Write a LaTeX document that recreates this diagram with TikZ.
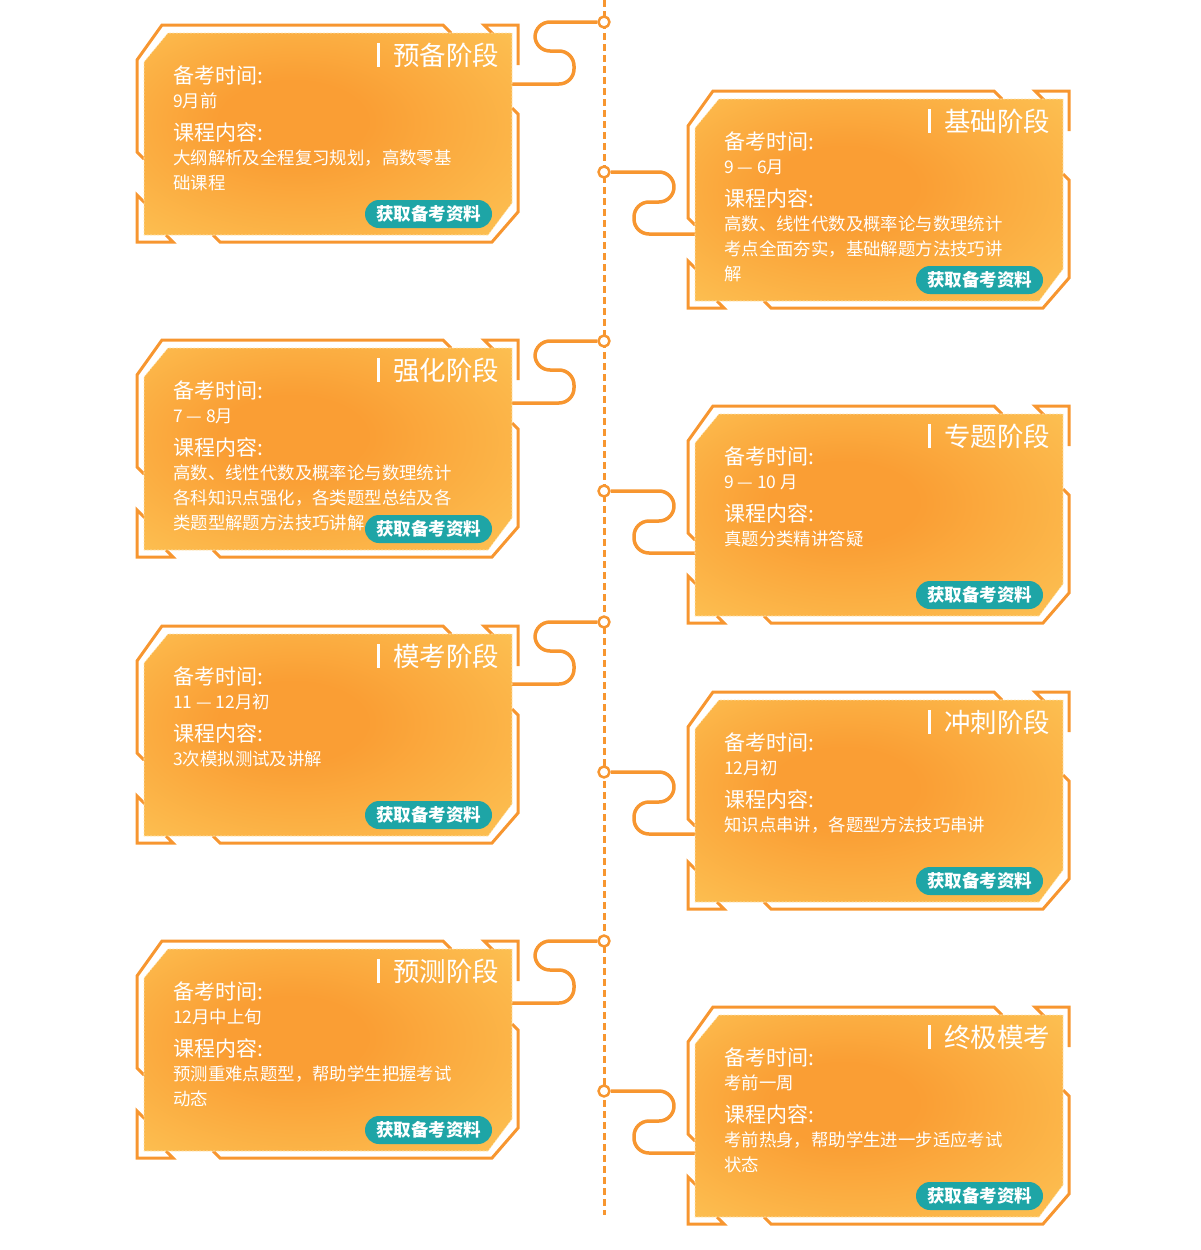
\documentclass[tikz,border=0pt]{standalone}
\usepackage{fontspec}
\setmainfont{Noto Sans CJK SC}
\usepackage{tikz}
\usetikzlibrary{calc}

\definecolor{lineorange}{RGB}{247,150,48}
\definecolor{cardcore}{RGB}{250,158,52}
\definecolor{cardedge}{RGB}{253,199,88}
\definecolor{btnteal}{RGB}{30,165,166}

\pgfdeclareradialshading{cardglow}{\pgfpoint{-6bp}{4bp}}{color(0bp)=(cardcore); color(10bp)=(cardcore); color(42bp)=(cardedge); color(50bp)=(cardedge)}

% one stage card: name, x, y of the outer top-left corner, title, time, lines of content
\newcommand{\stagecard}[6]{%
  \begin{scope}[shift={(#2,#3)}]
    % outer frame pieces
    \draw[cardframe] (7,134) -- (0,127) -- (0,35) -- (25,0) -- (306,0) -- (314,8);
    \draw[cardframe] (374,27) -- (347,0) -- (381,0) -- (381,40);
    \draw[cardframe] (375,83) -- (381,89) -- (381,187) -- (355,217) -- (83,217) -- (76,210);
    \draw[cardframe] (8,178) -- (0,170) -- (0,217) -- (36,217) -- (29,210);
    % glowing face
    \shadedraw[shading=cardglow, seam] (7,37) -- (31,8) -- (375,8) -- (375,178) -- (351,210) -- (7,210) -- cycle;
    % heading
    \fill[white] (240,18) rectangle (243,42);
    \node[stagehead] (#1-title) at (256,30) {#4};
    \node[fieldname] (#1-when) at (36,50) {备考时间:};
    \node[fieldtext] (#1-time) at (36,76) {#5};
    \node[fieldname] (#1-what) at (36,107) {课程内容:};
    \foreach \ctext [count=\i] in {#6}
      \node[fieldtext] (#1-line\i) at (36,108+25*\i) {\ctext};
    \node[getbtn] (#1-btn) at (291.5,189) {获取备考资料};
  \end{scope}}

% S-shaped connectors from a knot on the rail to a card
\newcommand{\leftlink}[2]{%
  \coordinate (#1-port) at (512,#2+62);
  \draw[cardlink] (#1.west) -- (535,#2) -- (535,#2+29) -- (574,#2+29) -- (574,#2+62) -- (#1-port);}
\newcommand{\rightlink}[2]{%
  \coordinate (#1-port) at (696,#2+62);
  \draw[cardlink] (#1.east) -- (674,#2) -- (674,#2+30) -- (634,#2+30) -- (634,#2+62) -- (#1-port);}

\begin{document}
\begin{tikzpicture}[x=1pt, y=-1pt, line join=round,
  cardframe/.style={draw=lineorange, line width=3pt, line join=miter},
  seam/.style={draw=white!55!cardedge, line width=0.6pt, dash pattern=on 2pt off 1.5pt},
  cardlink/.style={draw=lineorange, line width=3.5pt, rounded corners=15pt},
  rail/.style={draw=lineorange, line width=3pt, dash pattern=on 7pt off 4pt},
  railknot/.style={circle, draw=lineorange, fill=white, line width=2.5pt, minimum size=11pt, inner sep=0},
  stagehead/.style={anchor=west, text=white, font=\fontsize{26.5}{30}\selectfont, inner sep=0},
  fieldname/.style={anchor=west, text=white, font=\fontsize{21}{24}\selectfont, inner sep=0},
  fieldtext/.style={anchor=west, text=white, font=\fontsize{17.4}{20}\selectfont, inner sep=0},
  getbtn/.style={fill=btnteal, text=white, rounded corners=14pt, minimum width=127pt, minimum height=28pt, inner sep=0, font=\bfseries\fontsize{17.5}{20}\selectfont}]
  \useasboundingbox (0,0) rectangle (1200,1250);

  % Timeline rail and its knots
  \draw[rail] (604,0) -- (604,1215);
  \foreach \y [count=\k] in {22,172,341,491,622,772,941,1091}
    \node[railknot] (knot\k) at (604,\y) {};

  % Connectors
  \leftlink{knot1}{22}
  \rightlink{knot2}{172}
  \leftlink{knot3}{341}
  \rightlink{knot4}{491}
  \leftlink{knot5}{622}
  \rightlink{knot6}{772}
  \leftlink{knot7}{941}
  \rightlink{knot8}{1091}

  % Stage cards
  \stagecard{prep}{137}{25}{预备阶段}{9月前}{大纲解析及全程复习规划，高数零基,础课程}
  \stagecard{base}{688}{91}{基础阶段}{9 — 6月}{高数、线性代数及概率论与数理统计,考点全面夯实，基础解题方法技巧讲,解}
  \stagecard{boost}{137}{340}{强化阶段}{7 — 8月}{高数、线性代数及概率论与数理统计,各科知识点强化，各类题型总结及各,类题型解题方法技巧讲解}
  \stagecard{topic}{688}{406}{专题阶段}{9 — 10 月}{真题分类精讲答疑}
  \stagecard{mock}{137}{626}{模考阶段}{11 — 12月初}{3次模拟测试及讲解}
  \stagecard{sprint}{688}{692}{冲刺阶段}{12月初}{知识点串讲，各题型方法技巧串讲}
  \stagecard{predict}{137}{941}{预测阶段}{12月中上旬}{预测重难点题型，帮助学生把握考试,动态}
  \stagecard{final}{688}{1007}{终极模考}{考前一周}{考前热身，帮助学生进一步适应考试,状态}
\end{tikzpicture}
\end{document}
